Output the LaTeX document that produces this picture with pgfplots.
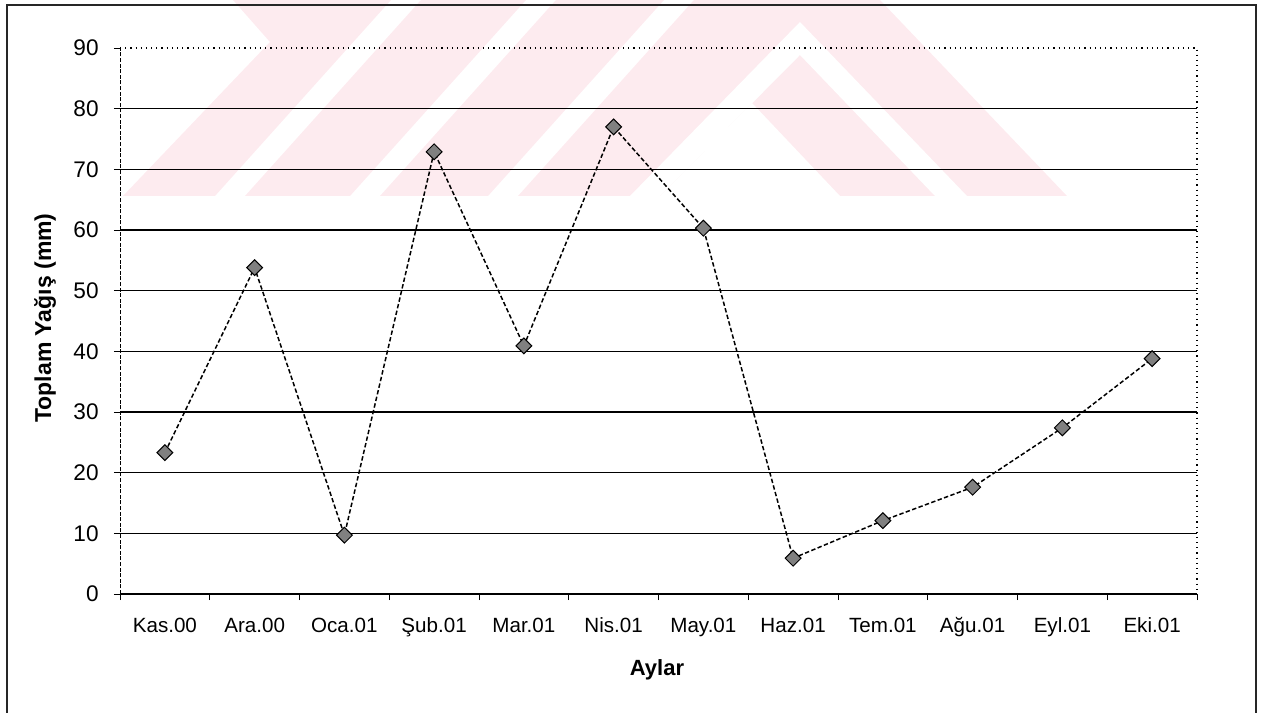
\documentclass[border=0pt]{standalone}
\usepackage{pgfplots}
\pgfplotsset{compat=1.18}
\usepackage{fontspec}
\setmainfont{Liberation Sans}
\definecolor{wm}{RGB}{253,235,239}
\begin{document}
\begin{tikzpicture}
\useasboundingbox (0,0) rectangle (634.5bp,-356.5bp);
% background watermark (pixel coordinates, y downward)
\begin{scope}[x=0.5bp,y=-0.5bp]
 \clip (118,0) rectangle (1200,196);
 \fill[wm] (123,196) -- (215,196) -- (391,0) -- (233,0) -- (270,42) -- cycle;
 \fill[wm] (245,196) -- (350,196) -- (526,0) -- (421,0) -- cycle;
 \fill[wm] (380,196) -- (488,196) -- (664,0) -- (556,0) -- cycle;
 \fill[wm] (518,196) -- (694,0) -- (880,0) -- (1067,196) -- cycle;
 \fill[white] (630,196) -- (800,22) -- (967,196) -- (935,196) -- (800,55) -- (660,196) -- cycle;
 \fill[white] (660,196) -- (752,103) -- (840,196) -- cycle;
\end{scope}
% outer frame
\draw[line width=0.6bp, black!85] (3.5bp,-360bp) -- (3.5bp,-2.5bp) -- (628bp,-2.5bp) -- (628bp,-360bp);
\begin{axis}[
 at={(60bp,-297bp)}, anchor=south west,
 scale only axis, width=538.5bp, height=273bp,
 xmin=-0.5, xmax=11.5, ymin=0, ymax=90,
 axis x line*=bottom, axis y line*=left,
 x axis line style={line width=0.7bp},
 y axis line style={line width=0.5bp, dash pattern=on 2bp off 0.8bp},
 xtick={-0.5,0.5,...,11.5},
 xticklabels={},
 extra x ticks={0,1,...,11},
 extra x tick labels={Kas.00,Ara.00,Oca.01,Şub.01,Mar.01,Nis.01,May.01,Haz.01,Tem.01,Ağu.01,Eyl.01,Eki.01},
 extra x tick style={major tick length=0pt},
 ytick={0,10,...,80},
 extra y ticks={90},
 extra y tick style={grid=none},
 ymajorgrids,
 major grid style={black, line width=0.6bp},
 tick align=outside,
 major tick length=3bp,
 tick style={black, line width=0.5bp},
 /pgf/number format/assume math mode=true,
 xticklabel style={font=\fontsize{10.3bp}{12bp}\selectfont, inner sep=0pt, anchor=base, yshift=-19bp},
 yticklabel style={font=\fontsize{11.3bp}{13bp}\selectfont, inner sep=0pt, anchor=east, xshift=-7.5bp},
 xlabel={Aylar}, ylabel={Toplam Yağış (mm)},
 every axis x label/.style={at={(axis description cs:0.4986,-0.1392)}, anchor=center, font=\bfseries\fontsize{11bp}{13bp}\selectfont},
 every axis y label/.style={at={(axis description cs:-0.0696,0.5055)}, rotate=90, anchor=center, font=\bfseries\fontsize{11.5bp}{14bp}\selectfont},
 clip=false,
]
\draw[dotted, line width=0.6bp] (rel axis cs:0,1) -- (rel axis cs:1,1) -- (rel axis cs:1,0);
\addplot[black, line width=0.75bp, dash pattern=on 2.2bp off 1.2bp, mark=square*, mark size=2.8bp,
  mark options={solid, rotate=45, fill=black!50, draw=black, line width=0.5bp}]
coordinates {(0,23.3) (1,53.8) (2,9.7) (3,72.9) (4,40.9) (5,77.0) (6,60.3) (7,5.9) (8,12.1) (9,17.6) (10,27.4) (11,38.8)};
\end{axis}
\end{tikzpicture}
\end{document}
